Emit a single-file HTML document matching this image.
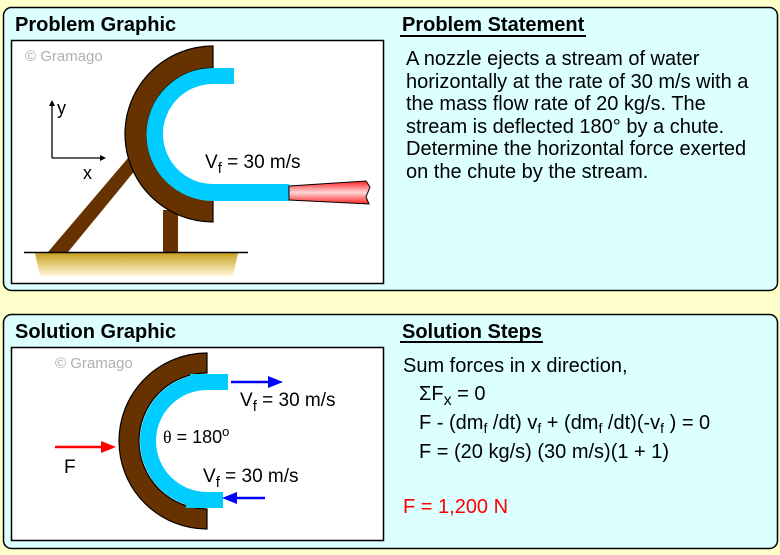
<!DOCTYPE html>
<html><head><meta charset="utf-8"><style>
html,body{margin:0;padding:0;background:#ffffcc;}
svg{display:block;font-family:"Liberation Sans",Arial,sans-serif;}
</style></head><body>
<svg width="780" height="555" viewBox="0 0 780 555" xmlns="http://www.w3.org/2000/svg">
<defs>
<linearGradient id="gnd" x1="0" y1="0" x2="0" y2="1"><stop offset="0" stop-color="#c8a020"/><stop offset="1" stop-color="#fff8d8"/></linearGradient>
<linearGradient id="noz" x1="0" y1="0" x2="0" y2="1"><stop offset="0" stop-color="#ff2020"/><stop offset="0.5" stop-color="#ffd8d8"/><stop offset="1" stop-color="#ff2020"/></linearGradient>
</defs>
<rect width="780" height="555" fill="#ffffcc"/>
<rect x="3.5" y="7.5" width="774" height="283" rx="8" fill="#dcffff" stroke="#000" stroke-width="1.5"/>
<rect x="3.5" y="314.5" width="774" height="234" rx="8" fill="#dcffff" stroke="#000" stroke-width="1.5"/>
<rect x="11.5" y="40.5" width="372" height="243" fill="#fff" stroke="#000" stroke-width="1.5"/>
<rect x="11.5" y="347.5" width="372" height="193" fill="#fff" stroke="#000" stroke-width="1.5"/>
<text x="15" y="31" font-size="20" font-weight="bold">Problem Graphic</text>
<text x="15" y="338" font-size="20" font-weight="bold">Solution Graphic</text>
<text x="402" y="31" font-size="20" font-weight="bold">Problem Statement</text>
<rect x="400" y="35" width="186" height="2"/>
<text x="402" y="338" font-size="20" font-weight="bold">Solution Steps</text>
<rect x="400" y="341" width="143" height="2"/>
<g font-size="20">
<text x="406" y="65">A nozzle ejects a stream of water</text>
<text x="406" y="88">horizontally at the rate of 30 m/s with a</text>
<text x="406" y="110">the mass flow rate of 20 kg/s. The</text>
<text x="406" y="133">stream is deflected 180° by a chute.</text>
<text x="406" y="155">Determine the horizontal force exerted</text>
<text x="406" y="178">on the chute by the stream.</text>
<text x="403" y="372">Sum forces in x direction,</text>
<text x="419" y="400">ΣF<tspan font-size="16" dy="5">x</tspan><tspan dy="-5"> = 0</tspan></text>
<text x="419" y="429">F - (dm<tspan font-size="14" dy="4">f</tspan><tspan dy="-4"> /dt) v</tspan><tspan font-size="14" dy="4">f</tspan><tspan dy="-4"> + (dm</tspan><tspan font-size="14" dy="4">f</tspan><tspan dy="-4"> /dt)(-v</tspan><tspan font-size="14" dy="4">f</tspan><tspan dy="-4"> ) = 0</tspan></text>
<text x="419" y="458">F = (20 kg/s) (30 m/s)(1 + 1)</text>
<text x="403" y="513" fill="#ff0000">F = 1,200 N</text>
</g>
<!-- Problem graphic -->
<text x="25" y="61" font-size="15" fill="#b0b0b0">© Gramago</text>
<polygon points="35,253 238,253 233,276 40,276" fill="url(#gnd)"/>
<polygon points="48,252 68,252 137,168 128,158" fill="#663300"/>
<rect x="163" y="210" width="15" height="42" fill="#663300"/>
<line x1="24" y1="252.5" x2="248" y2="252.5" stroke="#000" stroke-width="1.5"/>
<path d="M213,46 A88,88 0 0 0 213,222 L213,200 A66,66 0 0 1 213,68 Z" fill="#663300" stroke="#000" stroke-width="1.2"/>
<path d="M213,68 L234,68 L234,84 L213,84 A50,50 0 0 0 213,184 L289,184 L289,201 L213,201 A66.5,66.5 0 0 1 213,68 Z" fill="#00ccff"/>
<path d="M289,186 L366,181 L370,187 L366,197 L369,204 L289,200 Z" fill="url(#noz)" stroke="#000" stroke-width="1"/>
<line x1="52" y1="158" x2="52" y2="104" stroke="#000" stroke-width="1.3"/>
<polygon points="49,106 52,100 55,106" fill="#000"/>
<line x1="52" y1="158" x2="102" y2="158" stroke="#000" stroke-width="1.3"/>
<polygon points="100,155 106,158 100,161" fill="#000"/>
<text x="57" y="114" font-size="18">y</text>
<text x="83" y="179" font-size="18">x</text>
<text x="205" y="168" font-size="19">V<tspan font-size="15" dy="5">f</tspan><tspan dy="-5"> = 30 m/s</tspan></text>
<!-- Solution graphic -->
<text x="55" y="368" font-size="15" fill="#b0b0b0">© Gramago</text>
<path d="M207,353 A88,88 0 0 0 207,529 L207,509 A68,68 0 0 1 207,373 Z" fill="#663300" stroke="#000" stroke-width="1.2"/>
<path d="M207,374 L228,374 L228,390 L207,390 A51,51 0 0 0 207,492 L207,508 A67,67 0 0 1 207,374 Z" fill="#00ccff"/>
<rect x="186" y="492" width="37" height="16" fill="#00ccff"/>
<rect x="190" y="374" width="20" height="16" fill="#00ccff"/>
<line x1="231" y1="382" x2="272" y2="382" stroke="#0000ff" stroke-width="2.5"/>
<polygon points="268,376 283,382 268,388" fill="#0000ff"/>
<line x1="265" y1="498" x2="234" y2="498" stroke="#0000ff" stroke-width="2.5"/>
<polygon points="237,492 222,498 237,504" fill="#0000ff"/>
<line x1="55" y1="447" x2="104" y2="447" stroke="#ff0000" stroke-width="2.5"/>
<polygon points="101,441 116,447 101,453" fill="#ff0000"/>
<text x="64" y="473" font-size="19">F</text>
<text x="240" y="406" font-size="19">V<tspan font-size="15" dy="5">f</tspan><tspan dy="-5"> = 30 m/s</tspan></text>
<text x="203" y="482" font-size="19">V<tspan font-size="15" dy="5">f</tspan><tspan dy="-5"> = 30 m/s</tspan></text>
<text x="163" y="443" font-size="18"><tspan font-family="Liberation Serif,serif">θ</tspan> = 180<tspan font-size="13" dy="-7">o</tspan></text>
</svg>
</body></html>
